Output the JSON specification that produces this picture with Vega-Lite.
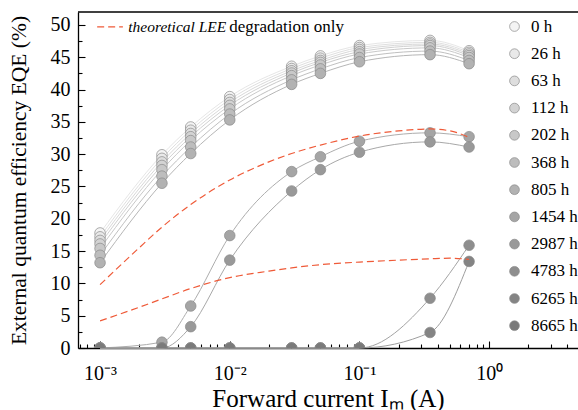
{
  "$schema": "https://vega.github.io/schema/vega-lite/v6.json",
  "width": 500,
  "height": 336,
  "autosize": {"type": "none"},
  "padding": {"left": 78, "top": 12, "right": 0, "bottom": 62},
  "config": {
    "font": "Liberation Serif",
    "view": {"stroke": null},
    "axis": {
      "grid": false,
      "domainColor": "#000000",
      "domainWidth": 1.3,
      "tickColor": "#000000",
      "tickWidth": 1.1,
      "labelColor": "#000000",
      "titleColor": "#000000",
      "labelFont": "Liberation Serif",
      "titleFont": "Liberation Serif",
      "labelFontSize": 20,
      "titleFontSize": 21.5,
      "titleFontWeight": "normal"
    }
  },
  "resolve": {"legend": {"stroke": "independent", "fill": "independent"}},
  "datasets": {
    "eqe": [
      {"s": "0 h", "I": 0.001, "eqe": 17.8}, {"s": "0 h", "I": 0.003, "eqe": 29.9}, {"s": "0 h", "I": 0.005, "eqe": 34.2},
      {"s": "0 h", "I": 0.01, "eqe": 38.9}, {"s": "0 h", "I": 0.03, "eqe": 43.6}, {"s": "0 h", "I": 0.05, "eqe": 45.2},
      {"s": "0 h", "I": 0.1, "eqe": 46.8}, {"s": "0 h", "I": 0.35, "eqe": 47.6}, {"s": "0 h", "I": 0.7, "eqe": 46.0},
      {"s": "26 h", "I": 0.001, "eqe": 17.2}, {"s": "26 h", "I": 0.003, "eqe": 29.35}, {"s": "26 h", "I": 0.005, "eqe": 33.7},
      {"s": "26 h", "I": 0.01, "eqe": 38.45}, {"s": "26 h", "I": 0.03, "eqe": 43.25}, {"s": "26 h", "I": 0.05, "eqe": 44.85},
      {"s": "26 h", "I": 0.1, "eqe": 46.5}, {"s": "26 h", "I": 0.35, "eqe": 47.3}, {"s": "26 h", "I": 0.7, "eqe": 45.75},
      {"s": "63 h", "I": 0.001, "eqe": 16.65}, {"s": "63 h", "I": 0.003, "eqe": 28.8}, {"s": "63 h", "I": 0.005, "eqe": 33.2},
      {"s": "63 h", "I": 0.01, "eqe": 38.0}, {"s": "63 h", "I": 0.03, "eqe": 42.9}, {"s": "63 h", "I": 0.05, "eqe": 44.5},
      {"s": "63 h", "I": 0.1, "eqe": 46.2}, {"s": "63 h", "I": 0.35, "eqe": 47.05}, {"s": "63 h", "I": 0.7, "eqe": 45.5},
      {"s": "112 h", "I": 0.001, "eqe": 16.1}, {"s": "112 h", "I": 0.003, "eqe": 28.25}, {"s": "112 h", "I": 0.005, "eqe": 32.7},
      {"s": "112 h", "I": 0.01, "eqe": 37.55}, {"s": "112 h", "I": 0.03, "eqe": 42.55}, {"s": "112 h", "I": 0.05, "eqe": 44.2},
      {"s": "112 h", "I": 0.1, "eqe": 45.85}, {"s": "112 h", "I": 0.35, "eqe": 46.8}, {"s": "112 h", "I": 0.7, "eqe": 45.25},
      {"s": "202 h", "I": 0.001, "eqe": 15.4}, {"s": "202 h", "I": 0.003, "eqe": 27.6}, {"s": "202 h", "I": 0.005, "eqe": 32.1},
      {"s": "202 h", "I": 0.01, "eqe": 37.0}, {"s": "202 h", "I": 0.03, "eqe": 42.15}, {"s": "202 h", "I": 0.05, "eqe": 43.8},
      {"s": "202 h", "I": 0.1, "eqe": 45.5}, {"s": "202 h", "I": 0.35, "eqe": 46.45}, {"s": "202 h", "I": 0.7, "eqe": 44.95},
      {"s": "368 h", "I": 0.001, "eqe": 14.35}, {"s": "368 h", "I": 0.003, "eqe": 26.6}, {"s": "368 h", "I": 0.005, "eqe": 31.1},
      {"s": "368 h", "I": 0.01, "eqe": 36.2}, {"s": "368 h", "I": 0.03, "eqe": 41.5}, {"s": "368 h", "I": 0.05, "eqe": 43.2},
      {"s": "368 h", "I": 0.1, "eqe": 44.95}, {"s": "368 h", "I": 0.35, "eqe": 45.95}, {"s": "368 h", "I": 0.7, "eqe": 44.5},
      {"s": "805 h", "I": 0.001, "eqe": 13.2}, {"s": "805 h", "I": 0.003, "eqe": 25.5}, {"s": "805 h", "I": 0.005, "eqe": 30.1},
      {"s": "805 h", "I": 0.01, "eqe": 35.3}, {"s": "805 h", "I": 0.03, "eqe": 40.8}, {"s": "805 h", "I": 0.05, "eqe": 42.5},
      {"s": "805 h", "I": 0.1, "eqe": 44.3}, {"s": "805 h", "I": 0.35, "eqe": 45.4}, {"s": "805 h", "I": 0.7, "eqe": 44.0},
      {"s": "1454 h", "I": 0.001, "eqe": 0}, {"s": "1454 h", "I": 0.003, "eqe": 0.9}, {"s": "1454 h", "I": 0.005, "eqe": 6.5},
      {"s": "1454 h", "I": 0.01, "eqe": 17.4}, {"s": "1454 h", "I": 0.03, "eqe": 27.3}, {"s": "1454 h", "I": 0.05, "eqe": 29.6},
      {"s": "1454 h", "I": 0.1, "eqe": 32.0}, {"s": "1454 h", "I": 0.35, "eqe": 33.3}, {"s": "1454 h", "I": 0.7, "eqe": 32.7},
      {"s": "2987 h", "I": 0.001, "eqe": 0}, {"s": "2987 h", "I": 0.003, "eqe": 0}, {"s": "2987 h", "I": 0.005, "eqe": 3.3},
      {"s": "2987 h", "I": 0.01, "eqe": 13.6}, {"s": "2987 h", "I": 0.03, "eqe": 24.3}, {"s": "2987 h", "I": 0.05, "eqe": 27.6},
      {"s": "2987 h", "I": 0.1, "eqe": 30.3}, {"s": "2987 h", "I": 0.35, "eqe": 31.9}, {"s": "2987 h", "I": 0.7, "eqe": 31.1},
      {"s": "4783 h", "I": 0.001, "eqe": 0}, {"s": "4783 h", "I": 0.003, "eqe": 0}, {"s": "4783 h", "I": 0.005, "eqe": 0},
      {"s": "4783 h", "I": 0.01, "eqe": 0}, {"s": "4783 h", "I": 0.03, "eqe": 0}, {"s": "4783 h", "I": 0.05, "eqe": 0},
      {"s": "4783 h", "I": 0.1, "eqe": 0}, {"s": "4783 h", "I": 0.35, "eqe": 7.7}, {"s": "4783 h", "I": 0.7, "eqe": 15.9},
      {"s": "6265 h", "I": 0.001, "eqe": 0}, {"s": "6265 h", "I": 0.003, "eqe": 0}, {"s": "6265 h", "I": 0.005, "eqe": 0},
      {"s": "6265 h", "I": 0.01, "eqe": 0}, {"s": "6265 h", "I": 0.03, "eqe": 0}, {"s": "6265 h", "I": 0.05, "eqe": 0},
      {"s": "6265 h", "I": 0.1, "eqe": 0}, {"s": "6265 h", "I": 0.35, "eqe": 2.4}, {"s": "6265 h", "I": 0.7, "eqe": 13.4},
      {"s": "8665 h", "I": 0.001, "eqe": 0}, {"s": "8665 h", "I": 0.003, "eqe": 0}, {"s": "8665 h", "I": 0.005, "eqe": 0},
      {"s": "8665 h", "I": 0.01, "eqe": 0}, {"s": "8665 h", "I": 0.03, "eqe": 0}, {"s": "8665 h", "I": 0.05, "eqe": 0},
      {"s": "8665 h", "I": 0.1, "eqe": 0}
    ],
    "lee": [
      {"curve": "a", "I": 0.001, "eqe": 9.8}, {"curve": "a", "I": 0.002, "eqe": 15.5}, {"curve": "a", "I": 0.003, "eqe": 18.7},
      {"curve": "a", "I": 0.005, "eqe": 22.2}, {"curve": "a", "I": 0.01, "eqe": 26.0}, {"curve": "a", "I": 0.02, "eqe": 28.8},
      {"curve": "a", "I": 0.03, "eqe": 30.1}, {"curve": "a", "I": 0.05, "eqe": 31.4}, {"curve": "a", "I": 0.1, "eqe": 32.8},
      {"curve": "a", "I": 0.2, "eqe": 33.6}, {"curve": "a", "I": 0.35, "eqe": 33.9}, {"curve": "a", "I": 0.5, "eqe": 33.6},
      {"curve": "a", "I": 0.7, "eqe": 32.6},
      {"curve": "b", "I": 0.001, "eqe": 4.2}, {"curve": "b", "I": 0.002, "eqe": 6.3}, {"curve": "b", "I": 0.003, "eqe": 7.6},
      {"curve": "b", "I": 0.005, "eqe": 9.2}, {"curve": "b", "I": 0.01, "eqe": 10.9}, {"curve": "b", "I": 0.02, "eqe": 11.9},
      {"curve": "b", "I": 0.03, "eqe": 12.4}, {"curve": "b", "I": 0.05, "eqe": 12.9}, {"curve": "b", "I": 0.1, "eqe": 13.3},
      {"curve": "b", "I": 0.2, "eqe": 13.6}, {"curve": "b", "I": 0.35, "eqe": 13.8}, {"curve": "b", "I": 0.5, "eqe": 13.9},
      {"curve": "b", "I": 0.7, "eqe": 13.7}
    ],
    "key": [
      {"I": 0.00095, "eqe": 49.7}, {"I": 0.0015, "eqe": 49.7}
    ]
  },
  "encoding": {
    "x": {
      "field": "I",
      "type": "quantitative",
      "title": "Forward current Iₘ  (A)",
      "scale": {"type": "log", "domain": [0.000676, 4.84], "nice": false},
      "axis": {
        "values": [0.0007, 0.0008, 0.0009, 0.001, 0.002, 0.003, 0.004, 0.005, 0.006, 0.007, 0.008, 0.009,
                   0.01, 0.02, 0.03, 0.04, 0.05, 0.06, 0.07, 0.08, 0.09,
                   0.1, 0.2, 0.3, 0.4, 0.5, 0.6, 0.7, 0.8, 0.9, 1, 2, 3, 4],
        "labelExpr": "datum.value === 0.001 ? '10⁻³' : datum.value === 0.01 ? '10⁻²' : datum.value === 0.1 ? '10⁻¹' : datum.value === 1 ? '10⁰' : ''",
        "tickSize": {"condition": {"test": "indexof([0.001, 0.01, 0.1, 1], datum.value) >= 0", "value": -7}, "value": -4},
        "labelPadding": 22,
        "labelFlush": false,
        "labelOverlap": false,
        "titleFontSize": 25,
        "titlePadding": 0
      }
    },
    "y": {
      "field": "eqe",
      "type": "quantitative",
      "title": "External quantum efficiency EQE  (%)",
      "scale": {"domain": [0, 52], "nice": false, "zero": false},
      "axis": {
        "values": [0, 2.5, 5, 7.5, 10, 12.5, 15, 17.5, 20, 22.5, 25, 27.5, 30, 32.5, 35, 37.5, 40, 42.5, 45, 47.5, 50],
        "labelExpr": "datum.value % 5 === 0 ? datum.label : ''",
        "tickSize": {"condition": {"test": "datum.value % 5 === 0", "value": -7}, "value": -4},
        "labelPadding": 15,
        "labelOverlap": false,
        "titlePadding": 20
      }
    }
  },
  "layer": [
    {
      "data": {"name": "eqe"},
      "mark": {"type": "line", "interpolate": "monotone", "strokeWidth": 1},
      "encoding": {
        "stroke": {
          "field": "s",
          "type": "nominal",
          "legend": null,
          "scale": {
            "domain": ["0 h", "26 h", "63 h", "112 h", "202 h", "368 h", "805 h", "1454 h", "2987 h", "4783 h", "6265 h", "8665 h"],
            "range": ["#e6e6e6", "#e0e0e0", "#d9d9d9", "#d1d1d1", "#c9c9c9", "#c0c0c0", "#b6b6b6", "#adadad", "#a8a8a8", "#a3a3a3", "#9e9e9e", "#999999"]
          }
        }
      }
    },
    {
      "data": {"name": "eqe"},
      "mark": {"type": "circle", "size": 113, "opacity": 1, "stroke": "#8a8a8a", "strokeWidth": 0.7, "clip": true},
      "encoding": {
        "fill": {
          "field": "s",
          "type": "nominal",
          "scale": {
            "domain": ["0 h", "26 h", "63 h", "112 h", "202 h", "368 h", "805 h", "1454 h", "2987 h", "4783 h", "6265 h", "8665 h"],
            "range": ["#f4f4f4", "#e9e9e9", "#dedede", "#d3d3d3", "#c8c8c8", "#bdbdbd", "#b2b2b2", "#a5a5a5", "#999999", "#8e8e8e", "#848484", "#7a7a7a"]
          },
          "legend": {
            "orient": "none",
            "legendX": 428,
            "legendY": 6,
            "title": null,
            "padding": 0,
            "labelFont": "Liberation Serif",
            "labelFontSize": 17,
            "labelColor": "#000000",
            "labelOffset": 8,
            "rowPadding": 9.2,
            "symbolType": "circle",
            "symbolSize": 95,
            "symbolStrokeColor": "#8a8a8a",
            "symbolStrokeWidth": 0.7,
            "symbolOpacity": 1
          }
        }
      }
    },
    {
      "data": {"name": "lee"},
      "mark": {"type": "line", "interpolate": "monotone", "color": "#ef5a38", "strokeWidth": 1.2, "strokeDash": [7, 4]},
      "encoding": {"detail": {"field": "curve", "type": "nominal"}}
    },
    {
      "data": {"name": "key"},
      "mark": {"type": "line", "color": "#ef5a38", "strokeWidth": 1.2, "strokeDash": [7, 4]},
      "encoding": {}
    },
    {
      "data": {"values": [{"I": 0.00165, "eqe": 49.7, "text": "theoretical LEE"}]},
      "mark": {"type": "text", "align": "left", "baseline": "middle", "fontSize": 15.5, "fontStyle": "italic", "font": "Liberation Serif", "color": "#000000"},
      "encoding": {"text": {"field": "text"}}
    },
    {
      "data": {"values": [{"I": 0.0099, "eqe": 49.7, "text": "degradation only"}]},
      "mark": {"type": "text", "align": "left", "baseline": "middle", "fontSize": 17, "font": "Liberation Serif", "color": "#000000"},
      "encoding": {"text": {"field": "text"}}
    },
    {
      "data": {"values": [{"top": 52}]},
      "mark": {"type": "rule", "color": "#000000", "strokeWidth": 1.3},
      "encoding": {"y": {"field": "top", "type": "quantitative"}, "x": null}
    }
  ]
}
